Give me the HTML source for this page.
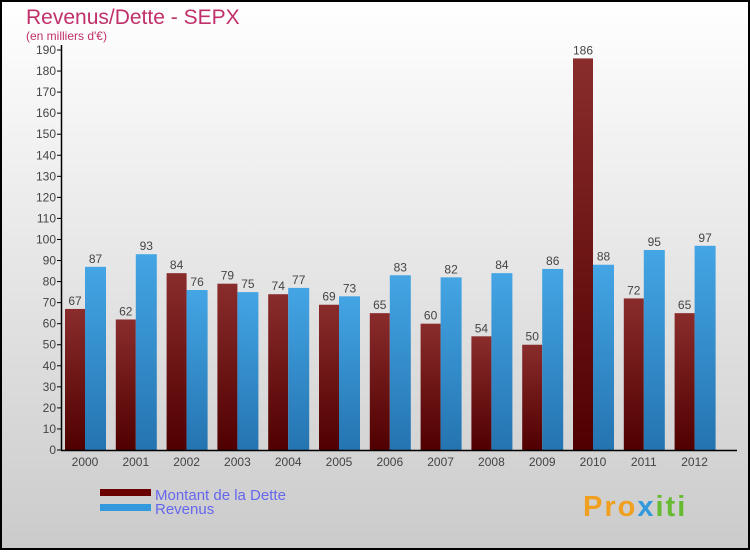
<!DOCTYPE html>
<html><head><meta charset="utf-8"><style>
body{margin:0;}
svg text{font-family:"Liberation Sans",sans-serif;}
</style></head><body>
<svg id="c" width="750" height="550" xmlns="http://www.w3.org/2000/svg">
<defs>
<linearGradient id="bg" x1="0" y1="0" x2="0" y2="1"><stop offset="0" stop-color="#ffffff"/><stop offset="1" stop-color="#cbcbcb"/></linearGradient>
<linearGradient id="gd" x1="0" y1="0" x2="0" y2="1"><stop offset="0" stop-color="#8a2c2c"/><stop offset="1" stop-color="#500000"/></linearGradient>
<linearGradient id="gr" x1="0" y1="0" x2="0" y2="1"><stop offset="0" stop-color="#44a5e5"/><stop offset="1" stop-color="#2474b0"/></linearGradient>
</defs>
<rect x="1" y="1" width="748" height="548" fill="url(#bg)" stroke="#000" stroke-width="2"/>
<text x="26" y="24" font-size="21" fill="#c0306a">Revenus/Dette - SEPX</text>
<text x="26" y="40" font-size="12" fill="#c0306a">(en milliers d'€)</text>
<g id="g"></g>
<rect x="100" y="489" width="51" height="7" fill="#6a0000"/>
<rect x="100" y="504" width="51" height="7" fill="#3399dd"/>
<text x="155" y="500" font-size="15" fill="#6666ee">Montant de la Dette</text>
<text x="155" y="514" font-size="15" fill="#6666ee">Revenus</text>
<text x="583" y="516" font-size="29" letter-spacing="2" font-weight="bold" fill="#f0a020">Pro<tspan fill="#3399dd">x</tspan><tspan fill="#66bb33">iti</tspan></text>
</svg>
<script>
const years=["2000","2001","2002","2003","2004","2005","2006","2007","2008","2009","2010","2011","2012"];
const dette=[67,62,84,79,74,69,65,60,54,50,186,72,65];
const revenus=[87,93,76,75,77,73,83,82,84,86,88,95,97];
const yTicks=[0,10,20,30,40,50,60,70,80,90,100,110,120,130,140,150,160,170,180,190];
const NS="http://www.w3.org/2000/svg";
const g=document.getElementById('g');
const y0=450,ymax=190,ph=400;
const ys=v=>y0-v/ymax*ph;
const xs=i=>65+i*50.8;
function mk(t,a){const e=document.createElementNS(NS,t);for(const k in a)e.setAttribute(k,a[k]);g.appendChild(e);return e;}
yTicks.forEach(v=>{
 const l=mk('line',{x1:57,x2:62,y1:ys(v),y2:ys(v),stroke:'#000'});
 
 
 const t=mk('text',{x:56,y:ys(v)+4,'font-size':12,fill:'#444','text-anchor':'end'});t.textContent=v;
 
 
});
years.forEach((yr,i)=>{
 const x=xs(i);
 const b1=mk('rect',{x:x,y:ys(dette[i]),width:20,height:y0-ys(dette[i]),fill:'url(#gd)'});
 
 
 const b2=mk('rect',{x:x+20,y:ys(revenus[i]),width:21,height:y0-ys(revenus[i]),fill:'url(#gr)'});
 
 
 const t1=mk('text',{x:x+10,y:ys(dette[i])-4,'font-size':12,fill:'#444','text-anchor':'middle'});t1.textContent=dette[i];
 
 
 const t2=mk('text',{x:x+30.5,y:ys(revenus[i])-4,'font-size':12,fill:'#444','text-anchor':'middle'});t2.textContent=revenus[i];
 
 
 const xl=mk('text',{x:x+20,y:466,'font-size':12,fill:'#444','text-anchor':'middle'});xl.textContent=yr;
 
 
});
const ax=mk('line',{x1:61.5,x2:61.5,y1:45,y2:450.5,stroke:'#000','stroke-width':1.5});


const xa=mk('line',{x1:61,x2:737,y1:450.5,y2:450.5,stroke:'#000','stroke-width':1.5});


</script>
</body></html>
